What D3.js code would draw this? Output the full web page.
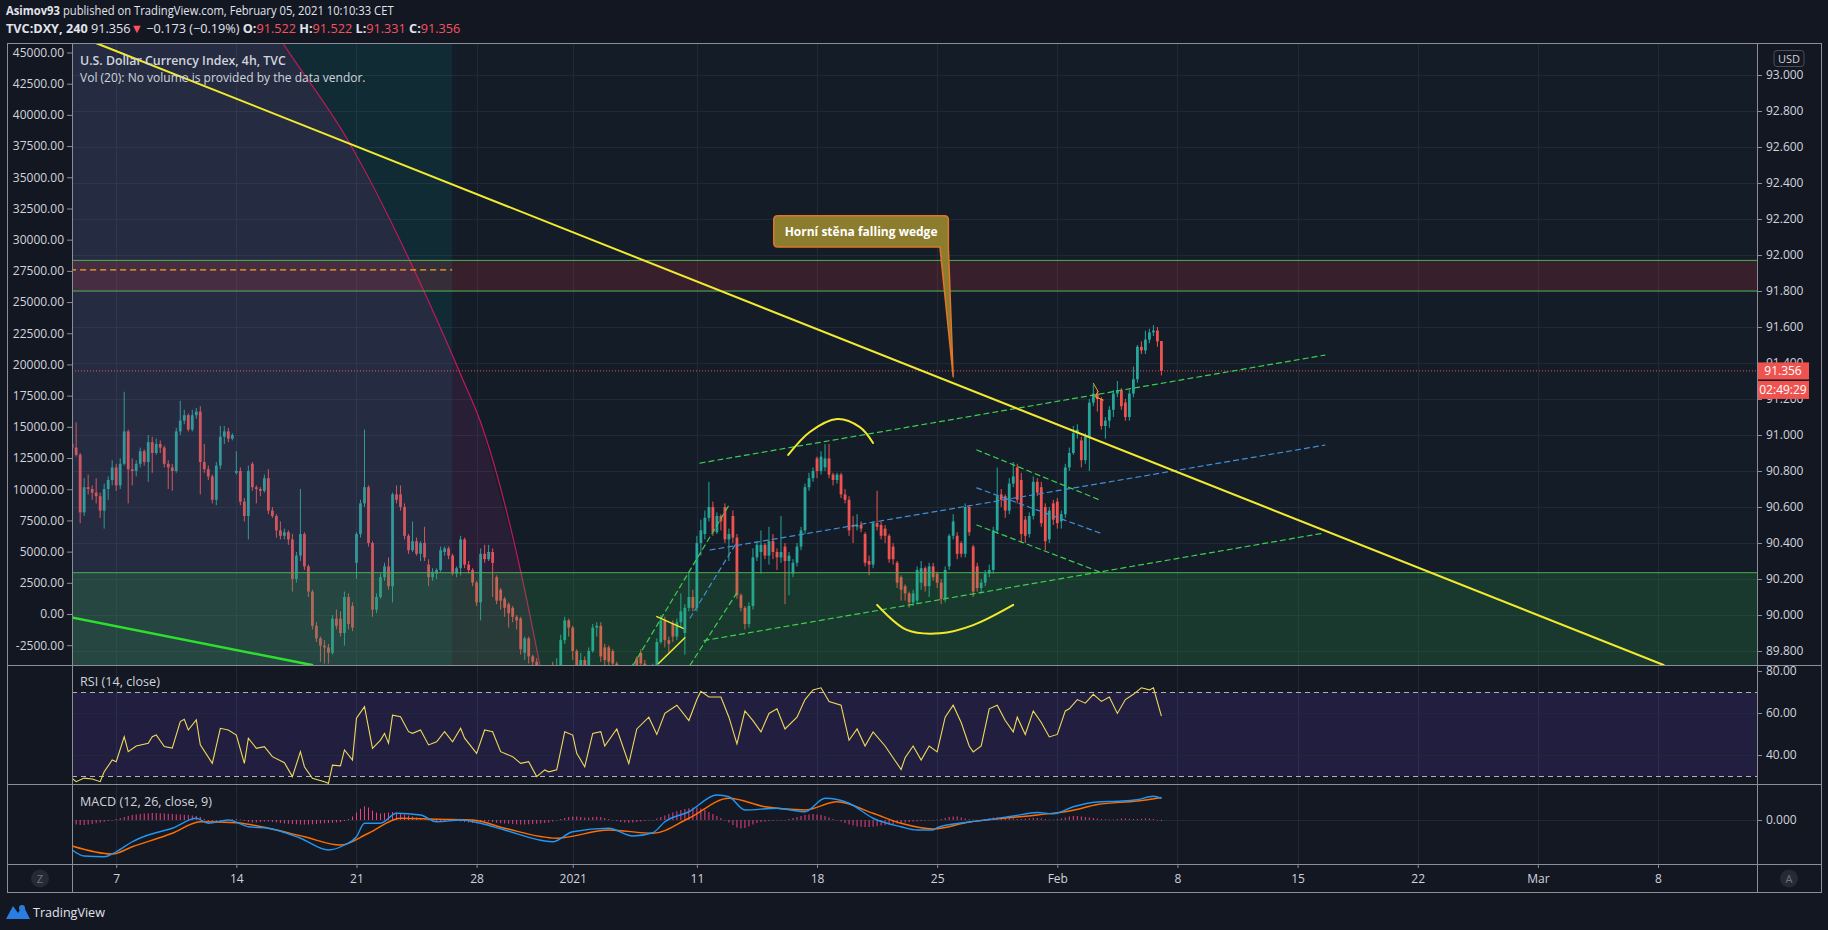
<!DOCTYPE html>
<html><head><meta charset="utf-8">
<script src="https://cdn.jsdelivr.net/npm/d3@7/dist/d3.min.js"></script>
<style>
html,body{margin:0;padding:0;background:#131722;overflow:hidden}
svg{display:block}
text{font-family:"Open Sans","Noto Sans",sans-serif}
</style></head><body>
<svg id="chart" width="1828" height="930"></svg>
<script>
// ---------------- DATA ----------------
// 4h bars; bar index 0 = Mon 7 Dec 2020 (first visible bar is index -11)
const firstBar = -11;
const opens = [90.95,90.93,90.89,90.57,90.71,90.70,90.68,90.66,90.58,90.70,
90.75,90.82,90.72,90.84,91.02,90.81,90.80,90.84,90.91,90.85,
90.96,90.90,90.95,90.93,90.84,90.82,90.80,91.02,91.08,91.11,
91.03,91.11,91.13,90.85,90.81,90.77,90.64,90.83,90.99,91.02,
90.98,90.79,90.80,90.63,90.55,90.84,90.71,90.70,90.69,90.76,
90.58,90.55,90.47,90.44,90.46,90.42,90.20,90.33,90.45,90.27,
90.13,89.94,89.87,89.83,89.82,89.79,89.98,89.98,89.90,90.10,
90.05,90.29,90.45,90.62,90.71,90.40,90.03,90.10,90.21,90.27,
90.16,90.67,90.67,90.60,90.44,90.36,90.41,90.34,90.40,90.28,
90.21,90.23,90.25,90.35,90.37,90.33,90.23,90.26,90.42,90.28,
90.25,90.18,90.07,90.34,90.31,90.35,90.21,90.14,90.09,90.06,
90.04,89.99,89.98,89.79,89.87,89.77,89.74,89.68,89.62,89.66,
89.70,89.69,89.72,89.86,89.97,89.93,89.80,89.70,89.75,89.70,
89.80,89.93,89.94,89.82,89.82,89.80,89.73,89.65,89.60,89.62,
89.68,89.76,89.79,89.73,89.70,89.68,89.72,89.85,89.97,89.86,
89.95,89.88,89.96,89.90,90.04,90.10,90.04,90.40,90.45,90.54,
90.60,90.46,90.55,90.60,90.42,90.55,90.43,90.11,90.04,89.95,
90.05,90.32,90.35,90.39,90.33,90.41,90.35,90.32,90.38,90.30,
90.23,90.29,90.38,90.47,90.71,90.76,90.87,90.80,90.82,90.87,
90.78,90.75,90.78,90.67,90.64,90.50,90.49,90.50,90.45,90.30,
90.28,90.51,90.50,90.48,90.44,90.38,90.29,90.21,90.16,90.12,
90.07,90.08,90.18,90.26,90.16,90.27,90.23,90.18,90.09,90.27,
90.44,90.44,90.40,90.34,90.60,90.38,90.27,90.15,90.18,90.23,
90.25,90.47,90.67,90.66,90.58,90.73,90.82,90.75,90.53,90.45,
90.55,90.74,90.71,90.60,90.42,90.62,90.63,90.52,90.56,90.82,
90.90,91.01,90.97,90.86,90.99,91.18,91.23,91.20,91.05,91.08,
91.14,91.23,91.25,91.18,91.10,91.23,91.31,91.49,91.47,91.53,
91.57,91.58,91.522];
const highs = [90.99,91.07,90.90,90.76,90.78,90.72,90.76,90.68,90.73,90.77,
90.86,90.84,90.87,91.24,91.03,90.87,90.86,90.93,90.92,91.00,
90.99,90.98,90.97,90.94,90.86,90.84,91.04,91.19,91.14,91.12,
91.14,91.15,91.16,90.95,90.83,90.78,90.85,91.05,91.05,91.04,
91.01,90.91,90.82,90.65,90.83,90.85,90.72,90.71,90.78,90.81,
90.60,90.56,90.52,90.48,90.47,90.45,90.35,90.70,90.46,90.28,
90.14,89.96,89.88,89.86,89.84,90.00,90.03,90.02,90.13,90.12,
90.07,90.46,90.64,91.03,90.72,90.41,90.12,90.23,90.29,90.32,
90.68,90.72,90.72,90.62,90.45,90.52,90.43,90.41,90.49,90.31,
90.26,90.26,90.38,90.38,90.38,90.34,90.27,90.44,90.43,90.30,
90.26,90.19,90.37,90.39,90.39,90.37,90.22,90.15,90.10,90.07,
90.05,90.00,89.99,89.88,89.88,89.78,89.76,89.70,89.69,89.72,
89.74,89.76,89.89,89.99,89.98,89.94,89.81,89.79,89.77,89.82,
89.95,89.96,89.96,89.84,89.83,89.81,89.74,89.67,89.66,89.71,
89.73,89.77,89.81,89.75,89.72,89.73,89.87,90.00,89.99,89.88,
89.97,89.98,90.12,90.06,90.24,90.14,90.44,90.53,90.58,90.74,
90.63,90.57,90.56,90.62,90.48,90.58,90.45,90.12,90.05,90.07,
90.37,90.41,90.47,90.40,90.49,90.45,90.37,90.55,90.40,90.35,
90.31,90.40,90.49,90.73,90.79,90.82,90.88,90.91,90.95,90.95,
90.79,90.79,90.79,90.70,90.66,90.55,90.56,90.52,90.46,90.33,
90.52,90.69,90.52,90.50,90.45,90.40,90.30,90.22,90.17,90.13,
90.14,90.27,90.30,90.27,90.29,90.29,90.24,90.20,90.27,90.45,
90.56,90.46,90.41,90.62,90.61,90.39,90.29,90.20,90.25,90.28,
90.49,90.82,90.70,90.67,90.76,90.85,90.84,90.79,90.55,90.57,
90.77,90.76,90.74,90.62,90.60,90.64,90.65,90.58,90.84,90.93,
91.05,91.06,90.99,91.01,91.20,91.28,91.25,91.21,91.10,91.16,
91.25,91.30,91.26,91.20,91.25,91.38,91.50,91.52,91.58,91.59,
91.61,91.60,91.522];
const lows = [90.92,90.88,90.51,90.55,90.67,90.64,90.62,90.54,90.48,90.64,
90.72,90.69,90.70,90.83,90.62,90.72,90.77,90.82,90.83,90.74,
90.79,90.89,90.90,90.82,90.70,90.69,90.79,91.00,91.06,91.02,
91.02,91.09,90.67,90.79,90.75,90.62,90.61,90.81,90.95,90.96,
90.97,90.78,90.61,90.52,90.42,90.69,90.62,90.66,90.68,90.56,
90.54,90.43,90.42,90.42,90.39,90.13,90.18,90.30,90.25,90.10,
89.92,89.85,89.74,89.73,89.73,89.78,89.92,89.88,89.83,89.92,
89.91,90.20,90.43,90.60,90.38,89.99,90.01,90.09,90.19,90.14,
90.07,90.62,90.58,90.42,90.34,90.35,90.33,90.30,90.30,90.16,
90.19,90.20,90.24,90.33,90.31,90.22,90.21,90.22,90.26,90.23,
90.16,90.05,89.97,90.29,90.30,90.10,90.06,90.03,89.99,89.93,
89.96,89.92,89.78,89.75,89.73,89.70,89.64,89.58,89.56,89.62,
89.64,89.66,89.70,89.84,89.88,89.75,89.66,89.66,89.65,89.68,
89.79,89.88,89.74,89.72,89.71,89.70,89.60,89.55,89.56,89.60,
89.66,89.70,89.71,89.66,89.64,89.66,89.70,89.84,89.82,89.79,
89.85,89.86,89.93,89.78,90.02,90.02,90.02,90.33,90.42,90.52,
90.44,90.45,90.47,90.40,90.30,90.40,90.09,90.02,89.92,89.93,
90.03,90.30,90.23,90.31,90.28,90.31,90.25,90.29,90.06,90.11,
90.21,90.27,90.36,90.45,90.69,90.74,90.76,90.78,90.80,90.76,
90.72,90.73,90.65,90.62,90.44,90.40,90.47,90.46,90.27,90.22,
90.26,90.47,90.42,90.40,90.29,90.28,90.15,90.08,90.08,90.04,
90.05,90.06,90.14,90.13,90.10,90.19,90.15,90.06,90.07,90.25,
90.42,90.31,90.32,90.32,90.44,90.10,90.13,90.12,90.16,90.21,
90.23,90.45,90.60,90.54,90.56,90.71,90.62,90.40,90.40,90.43,
90.53,90.66,90.49,90.36,90.40,90.50,90.48,90.48,90.54,90.80,
90.89,90.98,90.82,90.84,90.80,91.16,91.13,91.03,90.98,91.04,
91.10,91.21,91.14,91.08,91.08,91.21,91.29,91.45,91.45,91.51,
91.55,91.49,91.331];
const closes = [90.93,90.89,90.57,90.71,90.70,90.68,90.66,90.58,90.70,90.75,
90.82,90.72,90.84,91.02,90.81,90.80,90.84,90.91,90.85,90.96,
90.90,90.95,90.93,90.84,90.82,90.80,91.02,91.08,91.11,91.03,
91.11,91.13,90.85,90.81,90.77,90.64,90.83,90.99,91.02,90.98,
91.00,90.80,90.63,90.55,90.80,90.71,90.70,90.69,90.76,90.58,
90.55,90.47,90.44,90.46,90.42,90.20,90.33,90.45,90.27,90.13,
89.94,89.87,89.83,89.82,89.79,89.98,89.94,89.90,90.10,89.95,
89.93,90.45,90.62,90.71,90.40,90.03,90.10,90.21,90.27,90.16,
90.67,90.64,90.60,90.44,90.36,90.41,90.34,90.40,90.32,90.21,
90.24,90.25,90.36,90.37,90.33,90.23,90.26,90.42,90.28,90.25,
90.18,90.07,90.34,90.31,90.35,90.29,90.08,90.08,90.04,90.01,
89.99,89.97,89.81,89.87,89.77,89.74,89.68,89.62,89.66,89.70,
89.69,89.72,89.86,89.97,89.93,89.80,89.70,89.75,89.70,89.80,
89.93,89.94,89.77,89.75,89.74,89.73,89.65,89.60,89.62,89.68,
89.70,89.72,89.73,89.70,89.68,89.71,89.85,89.97,89.86,89.84,
89.88,89.96,90.02,90.04,90.10,90.04,90.40,90.47,90.54,90.60,
90.46,90.55,90.52,90.42,90.45,90.43,90.11,90.04,89.95,90.05,
90.32,90.39,90.39,90.33,90.41,90.35,90.32,90.35,90.30,90.33,
90.29,90.38,90.47,90.71,90.76,90.80,90.80,90.88,90.87,90.78,
90.75,90.78,90.67,90.64,90.47,90.49,90.50,90.48,90.29,90.28,
90.51,90.49,90.44,90.44,90.31,90.31,90.18,90.14,90.12,90.07,
90.12,90.25,90.26,90.16,90.27,90.21,90.18,90.09,90.25,90.44,
90.52,90.34,90.34,90.60,90.46,90.13,90.15,90.18,90.23,90.25,
90.47,90.66,90.64,90.58,90.73,90.77,90.64,90.45,90.44,90.55,
90.74,90.68,90.51,90.41,90.58,90.53,90.51,90.56,90.82,90.90,
91.01,91.03,90.86,90.99,91.18,91.23,91.20,91.05,91.08,91.14,
91.23,91.25,91.16,91.10,91.23,91.31,91.49,91.47,91.53,91.57,
91.58,91.52,91.356];

// RSI(14) readings (bar index, value)
const rsiBars = [-11,-10,-8,-6,-4,-3,-1,0,2,3,5,8,9,10,12,14,16,17,18,20,
21,24,26,28,30,32,33,35,37,39,42,44,46,47,49,52,53,54,56,57,
59,60,62,64,66,67,68,69,71,73,74,76,78,80,82,84,86,87,90,92,
94,96,99,101,103,105,107,108,110,112,114,115,117,119,121,122,125,128,130,133,
135,137,140,143,145,146,148,151,153,155,157,159,161,163,165,167,170,172,174,176,
178,181,183,185,187,189,192,194,196,197,199,201,203,205,207,209,211,213,214,216,
218,220,222,224,225,227,229,231,233,235,237,238,240,242,244,246,248,250,252,254,
256,258,259,261];
const rsiVals = [28.9,27.3,29,28.6,27.3,32,37.6,36.8,48.7,41.6,44.3,45.6,48.7,49.5,44,43.3,55.9,57,51.9,56.7,
44.8,36,52.7,51.9,49.5,36,48,43.2,44,39.2,36.3,29.7,41.6,34.4,28.9,27.3,26.5,35.2,34.8,42.4,
37.6,57.5,63,43.2,47.1,50.3,45.6,59,58.2,51.1,50.3,51.9,44.8,46.3,51.1,46.3,52.7,48,40.8,51.9,
51.1,41.6,39.2,36,36.8,29.7,32.9,32,32.9,51.1,49.5,40.8,34.4,50.3,51.1,44.3,52.4,35.9,52.4,58,
49.8,59.8,63.7,56.4,66.4,70.3,67.6,67.6,58,45.3,61,56.4,51,59.8,62,52.4,58,66.4,71,72,
65.5,63.7,47,52.4,44.3,51,44.3,38.7,33.1,38.7,44.3,37.6,44.3,41.5,58,63.7,55.5,44.3,41.5,44.3,
62,63.7,56.4,51,58,49.8,61,55.5,48.6,49.8,61,62,66.4,64.7,68.9,65.5,67.6,59.8,66.4,68.9,
72,71,72,58.5];

// MACD (12,26,9) readings
const macdBars = [-11,-8,-3,0,4,8,14,20,23,28,33,38,46,53,57,60,62,66,70,76,
80,86,91,97,109,114,123,129,134,137,143,150,153,157,165,172,177,183,189,196,
200,204,205,213,218,224,230,234,239,245,250,255,259,261];
const macdVals = [-0.120,-0.144,-0.147,-0.127,-0.087,-0.060,-0.033,0.007,-0.013,0.000,-0.027,-0.033,-0.073,-0.120,-0.100,-0.067,-0.013,-0.013,0.027,0.020,
-0.007,0.000,-0.013,-0.040,-0.087,-0.047,-0.033,-0.064,-0.051,-0.007,0.033,0.100,0.093,0.040,0.047,0.033,0.087,0.067,0.007,-0.027,
-0.040,-0.040,-0.031,-0.008,0.002,0.016,0.030,0.025,0.053,0.072,0.075,0.081,0.095,0.086];
const signalBars = [-11,-1,4,14,21,30,38,47,56,63,71,80,89,97,110,123,134,143,153,162,
172,180,189,196,204,213,221,230,239,245,255,261];
const signalVals = [-0.104,-0.136,-0.107,-0.053,-0.007,-0.011,-0.033,-0.067,-0.100,-0.053,0.007,0.003,0.000,-0.033,-0.073,-0.040,-0.053,0.007,0.087,0.053,
0.040,0.073,0.027,-0.013,-0.036,-0.008,0.006,0.020,0.039,0.062,0.076,0.090];
// histogram, one value per bar from firstBar
const macdHist = [-0.016,-0.018,-0.020,-0.020,-0.018,-0.016,-0.013,-0.010,-0.007,-0.004,-0.001,
0.004,0.008,0.012,0.016,0.020,0.022,0.024,0.026,0.027,0.028,0.028,0.027,0.026,0.025,0.024,0.023,0.022,0.021,0.020,0.018,0.016,0.012,
0.004,-0.004,-0.008,-0.010,-0.008,-0.004,0.000,0.003,0.004,0.002,-0.004,-0.008,-0.010,-0.010,-0.008,-0.006,-0.006,-0.008,-0.010,-0.012,
-0.014,-0.015,-0.016,-0.017,-0.018,-0.018,-0.018,-0.017,-0.016,-0.014,-0.013,-0.012,-0.011,-0.010,-0.008,-0.004,
0.004,0.014,0.030,0.045,0.055,0.050,0.038,0.030,0.026,0.028,0.030,0.032,0.030,0.026,0.022,0.018,0.014,0.010,
0.006,0.002,-0.002,-0.006,-0.008,-0.008,-0.006,-0.004,-0.003,-0.004,-0.006,-0.008,-0.010,-0.012,-0.013,-0.010,-0.006,-0.006,-0.008,-0.011,
-0.013,-0.014,-0.015,-0.016,-0.017,-0.018,-0.018,-0.017,-0.016,-0.015,-0.014,-0.012,-0.010,
-0.006,-0.002,0.004,0.008,0.012,0.014,0.014,0.012,0.010,0.010,0.012,0.013,0.012,0.008,0.004,0.000,-0.004,-0.008,-0.010,-0.011,
-0.010,-0.008,-0.006,-0.004,-0.002,0.000,
0.006,0.012,0.018,0.024,0.030,0.035,0.040,0.044,0.047,0.050,0.050,0.046,0.040,0.032,0.024,0.016,0.008,
0.000,-0.010,-0.020,-0.030,-0.034,-0.032,-0.026,-0.018,-0.012,-0.008,-0.006,-0.004,-0.003,-0.002,-0.002,0.000,0.004,0.008,
0.012,0.016,0.020,0.022,0.024,0.022,0.020,0.016,0.010,0.004,0.000,
-0.006,-0.012,-0.018,-0.022,-0.026,-0.027,-0.028,-0.028,-0.027,-0.025,-0.022,-0.020,-0.018,-0.016,-0.014,-0.012,-0.010,-0.008,-0.006,-0.005,
-0.004,-0.003,-0.002,0.000,0.002,0.004,0.008,0.012,0.014,0.014,0.010,0.006,0.003,0.002,0.001,0.002,0.004,0.008,0.010,0.012,
0.012,0.010,0.008,0.006,0.004,0.004,0.006,0.007,0.008,0.008,0.006,0.004,0.002,0.002,0.004,0.006,0.010,0.014,0.016,0.016,
0.014,0.012,0.010,0.008,0.006,0.004,0.003,0.002,0.002,0.004,0.006,0.006,0.005,0.004,0.004,0.005,0.006,0.006,0.004,0.000,-0.004];

// axis ticks / labels
const priceTicks = [93.0,92.8,92.6,92.4,92.2,92.0,91.8,91.6,91.4,91.2,91.0,90.8,90.6,90.4,90.2,90.0,89.8];
const leftTicks = [45000,42500,40000,37500,35000,32500,30000,27500,25000,22500,20000,17500,15000,12500,10000,7500,5000,2500,0,-2500];
const rsiTicks = [80,60,40];
const macdTicks = [0];
const timeTickBars = [0,30,60,90,114,145,175,205,235,265,295,325,355,385];
const timeTickLabels = ["7","14","21","28","2021","11","18","25","Feb","8","15","22","Mar","8"];

// drawings (bar index, price)
const trendYellow = [[-5.1,93.178],[386.4,89.722]];
const trendGreen = [[-11.5,89.988],[48.9,89.722]];
const chanUpper = [[145.8,90.844],[301.8,91.444]];
const chanMid = [[148.3,90.361],[301.8,90.944]];
const chanLower = [[146.8,89.858],[301.8,90.456]];
const steepA = [[129.1,89.722],[153.3,90.621]];
const steepB = [[143.3,89.722],[154.9,90.12]];
const steepBlue = [[143.3,89.983],[155,90.406]];
const flagUp = [[214.9,90.917],[245.6,90.639]];
const flagMid = [[214.9,90.706],[245.6,90.456]];
const flagLow = [[214.9,90.50],[245.6,90.239]];
const capCurve = [[167.8,90.889],[173.2,91.017],[180.0,91.089],[185.7,91.044],[189.0,90.956]];
const cupCurve = [[190,90.056],[197.4,89.917],[205.7,89.898],[214,89.944],[224,90.056]];
const wedgeTop = [[135,89.991],[141.6,89.926]];
const wedgeBot = [[135.4,89.731],[142,89.874]];
const zigzag = [[244,91.287],[245.2,91.241],[244.4,91.213],[246.5,91.194]];
const arcPts = [[38.4,93.289],[41.6,93.178],[58.1,92.628],[74.4,91.917],[86.6,91.306],[90.8,91.083],[101.1,90.233],[105.8,89.722],[107.3,89.55]];
const tealBox = [-11.5,83.9];
const redZone = [91.80,91.97];
const greenZoneTop = 90.235;
const orangeDash = {from:-11.5,to:83.9,price:91.917};
const lastPrice = 91.356;
const callout = {x0:164.2,x1:207.8,top:92.218,bottom:92.044,tip:[209.0,91.324],baseLeft:205.7,text:"Horní stěna falling wedge"};

// ---------------- LAYOUT ----------------
const W=1828,H=930,L=72,R=1757,T=43,MB=665,RB=784,MCB=864,AB=893,FL=7,FR=1822;
const UP='#26a69a',DN='#ef5350',TXT='#d1d4dc',FRAME='#8b8e97',GRID='#212836';

const x = d3.scaleLinear().domain([0,385]).range([116.2,1658]);
const yP = d3.scaleLinear().domain([89.8,93.0]).range([651,75]);
const yL = d3.scaleLinear().domain([-2500,45000]).range([645.2,52.5]);
const yR = d3.scaleLinear().domain([40,80]).range([755,671]);
const yM = d3.scaleLinear().domain([0,0.1]).range([820,795]);

const svg = d3.select('#chart');
const defs = svg.append('defs');
function clip(id,x0,y0,w,h){defs.append('clipPath').attr('id',id).append('rect').attr('x',x0).attr('y',y0).attr('width',w).attr('height',h);}
clip('cMain',L,T,R-L,MB-T); clip('cRsi',L,MB,R-L,RB-MB); clip('cMacd',L,RB,R-L,MCB-RB);

svg.append('rect').attr('width',W).attr('height',H).attr('fill','#131722');
svg.append('rect').attr('x',L).attr('y',T).attr('width',R-L).attr('height',MB-T).attr('fill','#141c28');
svg.append('rect').attr('x',L).attr('y',MB).attr('width',R-L).attr('height',MCB-MB).attr('fill','#131822');

// vertical grid
svg.append('g').selectAll('line').data(timeTickBars).join('line')
  .attr('x1',d=>Math.round(x(d))+0.5).attr('x2',d=>Math.round(x(d))+0.5)
  .attr('y1',T).attr('y2',MCB).attr('stroke',GRID).attr('stroke-width',1);

function fit(t,target){
  const w=t.node().getComputedTextLength(); const x0=+t.attr('x');
  t.attr('transform',`translate(${x0},0) scale(${target/w},1) translate(${-x0},0)`);
}

// ---------- MAIN PANE ----------
const gM = svg.append('g').attr('clip-path','url(#cMain)');
gM.append('g').selectAll('line').data(priceTicks).join('line')
  .attr('x1',L).attr('x2',R).attr('y1',d=>Math.round(yP(d))+0.5).attr('y2',d=>Math.round(yP(d))+0.5)
  .attr('stroke',GRID);

const idx = d3.range(opens.length);
const cg = gM.append('g');
cg.selectAll('line').data(idx).join('line')
  .attr('x1',i=>x(firstBar+i)).attr('x2',i=>x(firstBar+i))
  .attr('y1',i=>yP(highs[i])).attr('y2',i=>yP(lows[i]))
  .attr('stroke',i=>closes[i]>=opens[i]?UP:DN).attr('stroke-width',1);
cg.selectAll('rect').data(idx).join('rect')
  .attr('x',i=>x(firstBar+i)-1.4).attr('width',2.8)
  .attr('y',i=>yP(Math.max(opens[i],closes[i])))
  .attr('height',i=>Math.max(1,Math.abs(yP(opens[i])-yP(closes[i]))))
  .attr('fill',i=>closes[i]>=opens[i]?UP:DN);

// translucent areas
gM.append('rect').attr('x',x(tealBox[0])).attr('width',x(tealBox[1])-x(tealBox[0]))
  .attr('y',T).attr('height',MB-T).attr('fill','rgba(0,160,150,0.12)');
const arcPoly = [[tealBox[0],arcPts[0][1]]].concat(arcPts).concat([[tealBox[0],arcPts[arcPts.length-1][1]]]);
gM.append('path').attr('d',d3.line().x(d=>x(d[0])).y(d=>yP(d[1])).curve(d3.curveLinear)(arcPoly)+'Z')
  .attr('fill','rgba(190,60,160,0.12)');
gM.append('path').attr('d',d3.line().x(d=>x(d[0])).y(d=>yP(d[1])).curve(d3.curveMonotoneX)(arcPts))
  .attr('fill','none').attr('stroke','#c2185b').attr('stroke-width',1.2);
gM.append('rect').attr('x',L).attr('width',R-L).attr('y',yP(redZone[1])).attr('height',yP(redZone[0])-yP(redZone[1]))
  .attr('fill','rgba(242,54,69,0.16)');
gM.append('rect').attr('x',L).attr('width',R-L).attr('y',yP(greenZoneTop)).attr('height',MB-yP(greenZoneTop))
  .attr('fill','rgba(46,175,70,0.20)');
gM.append('g').selectAll('line').data([redZone[0],redZone[1],greenZoneTop]).join('line')
  .attr('x1',L).attr('x2',R).attr('y1',d=>yP(d)).attr('y2',d=>yP(d)).attr('stroke','#4caf50').attr('stroke-width',1);
gM.append('line').attr('x1',x(orangeDash.from)).attr('x2',x(orangeDash.to))
  .attr('y1',yP(orangeDash.price)).attr('y2',yP(orangeDash.price))
  .attr('stroke','#f5a623').attr('stroke-width',1.2).attr('stroke-dasharray','6,4');
gM.append('line').attr('x1',L).attr('x2',R).attr('y1',yP(lastPrice)).attr('y2',yP(lastPrice))
  .attr('stroke','#ef5350').attr('stroke-width',1).attr('stroke-dasharray','1,2');

function draw(pts,color,w,dash,curve){
  const p = gM.append('path').attr('d',d3.line().x(d=>x(d[0])).y(d=>yP(d[1])).curve(curve||d3.curveLinear)(pts))
    .attr('fill','none').attr('stroke',color).attr('stroke-width',w).attr('stroke-linecap','round');
  if(dash) p.attr('stroke-dasharray',dash);
}
const GD='#3ccf4e', BD='#3f8fd8';
draw(chanUpper,GD,1.2,'5,4'); draw(chanMid,BD,1.2,'5,4'); draw(chanLower,GD,1.2,'5,4');
draw(steepA,GD,1.2,'5,4'); draw(steepB,GD,1.2,'5,4'); draw(steepBlue,BD,1.2,'5,4');
draw(flagUp,GD,1.2,'5,4'); draw(flagMid,BD,1.2,'5,4'); draw(flagLow,GD,1.2,'5,4');
draw(trendYellow,'#f2ea2e',2);
draw(trendGreen,'#2ee02e',2.5);
draw(capCurve,'#f2ea2e',2,null,d3.curveCatmullRom);
draw(cupCurve,'#f2ea2e',2,null,d3.curveCatmullRom);
draw(wedgeTop,'#f2ea2e',1.5); draw(wedgeBot,'#f2ea2e',1.5);
draw(zigzag,'#f5a623',1);

// callout
{
  const bx0=x(callout.x0),bx1=x(callout.x1),by0=yP(callout.top),by1=yP(callout.bottom),r=4;
  const tx=x(callout.tip[0]),ty=yP(callout.tip[1]),bl=x(callout.baseLeft);
  const d=`M${bx0+r},${by0} H${bx1-r} Q${bx1},${by0} ${bx1},${by0+r} V${by1} L${tx},${ty} L${bl},${by1} H${bx0+r} Q${bx0},${by1} ${bx0},${by1-r} V${by0+r} Q${bx0},${by0} ${bx0+r},${by0} Z`;
  gM.append('path').attr('d',d).attr('fill','#8c7c2e').attr('stroke','#e0762a').attr('stroke-width',1.5).attr('stroke-linejoin','round');
  const t=gM.append('text').attr('x',(bx0+bx1)/2).attr('y',(by0+by1)/2+4.5).attr('text-anchor','middle')
    .attr('fill','#ffffff').attr('font-size',12.5).attr('font-weight',700).text(callout.text);
  fit(t,153);
}

// ---------- RSI PANE ----------
const gR = svg.append('g').attr('clip-path','url(#cRsi)');
gR.append('rect').attr('x',L).attr('width',R-L).attr('y',yR(70)).attr('height',yR(30)-yR(70)).attr('fill','rgba(120,60,220,0.16)');
gR.append('g').selectAll('line').data([60,40]).join('line').attr('x1',L).attr('x2',R)
  .attr('y1',d=>Math.round(yR(d))+0.5).attr('y2',d=>Math.round(yR(d))+0.5).attr('stroke',GRID);
gR.append('g').selectAll('line').data([70,30]).join('line').attr('x1',L).attr('x2',R)
  .attr('y1',d=>Math.round(yR(d))+0.5).attr('y2',d=>Math.round(yR(d))+0.5)
  .attr('stroke','#aeb1ba').attr('stroke-dasharray','5,4').attr('stroke-width',1);
gR.append('path').attr('d',d3.line().x((d,i)=>x(rsiBars[i])).y(d=>yR(d))(rsiVals))
  .attr('fill','none').attr('stroke','#efd95a').attr('stroke-width',1.1);

// ---------- MACD PANE ----------
const gC = svg.append('g').attr('clip-path','url(#cMacd)');
gC.append('line').attr('x1',L).attr('x2',R).attr('y1',Math.round(yM(0))+0.5).attr('y2',Math.round(yM(0))+0.5).attr('stroke',GRID);
gC.append('g').selectAll('rect').data(macdHist).join('rect')
  .attr('x',(d,i)=>x(firstBar+i)-0.5).attr('width',1)
  .attr('y',d=>Math.min(yM(0),yM(d))).attr('height',d=>Math.max(0.5,Math.abs(yM(d)-yM(0))))
  .attr('fill','#ec3f84');
gC.append('path').attr('d',d3.line().x((d,i)=>x(signalBars[i])).y(d=>yM(d)).curve(d3.curveMonotoneX)(signalVals))
  .attr('fill','none').attr('stroke','#ff6d00').attr('stroke-width',1.4);
gC.append('path').attr('d',d3.line().x((d,i)=>x(macdBars[i])).y(d=>yM(d)).curve(d3.curveMonotoneX)(macdVals))
  .attr('fill','none').attr('stroke','#2196f3').attr('stroke-width',1.4);

// ---------- AXES ----------
function styleAxis(g){
  g.select('.domain').remove();
  g.selectAll('.tick line').attr('stroke',FRAME);
  g.selectAll('.tick text').attr('fill',TXT).attr('font-size',12).attr('font-family','"Open Sans","Noto Sans",sans-serif');
}
svg.append('g').attr('transform',`translate(${R},0)`)
  .call(d3.axisRight(yP).tickValues(priceTicks).tickFormat(d=>d.toFixed(3)).tickSize(5).tickPadding(4)).call(styleAxis);
svg.append('g').attr('transform',`translate(${L},0)`)
  .call(d3.axisLeft(yL).tickValues(leftTicks).tickFormat(d=>d.toFixed(2)).tickSize(5).tickPadding(3)).call(styleAxis);
svg.append('g').attr('transform',`translate(${R},0)`)
  .call(d3.axisRight(yR).tickValues(rsiTicks).tickFormat(d=>d.toFixed(2)).tickSize(5).tickPadding(4)).call(styleAxis);
svg.append('g').attr('transform',`translate(${R},0)`)
  .call(d3.axisRight(yM).tickValues(macdTicks).tickFormat(d=>d.toFixed(3)).tickSize(5).tickPadding(4)).call(styleAxis);
svg.append('g').attr('transform',`translate(0,${MCB})`)
  .call(d3.axisBottom(x).tickValues(timeTickBars).tickFormat((d,i)=>timeTickLabels[i]).tickSize(4).tickPadding(6)).call(styleAxis);

// last price labels
{
  const yc=yP(lastPrice);
  svg.append('rect').attr('x',R).attr('y',yc-8.5).attr('width',52).attr('height',17).attr('fill','#ef5350');
  svg.append('text').attr('x',R+26).attr('y',yc+4.3).attr('text-anchor','middle').attr('fill','#fff').attr('font-size',12).text(lastPrice.toFixed(3));
  svg.append('rect').attr('x',R).attr('y',yc+10).attr('width',52).attr('height',18).attr('fill','#ef5350');
  svg.append('text').attr('x',R+26).attr('y',yc+23.3).attr('text-anchor','middle').attr('fill','#fff').attr('font-size',12).text('02:49:29');
}
// USD badge
svg.append('rect').attr('x',1774).attr('y',50.5).attr('width',30).attr('height',16).attr('rx',3)
  .attr('fill','#131722').attr('stroke','#4a4e59');
svg.append('text').attr('x',1789).attr('y',62.5).attr('text-anchor','middle').attr('fill',TXT).attr('font-size',11).text('USD');

// frame
const fr = svg.append('g').attr('stroke',FRAME).attr('stroke-width',1).attr('fill','none');
fr.append('rect').attr('x',FL+0.5).attr('y',T+0.5).attr('width',FR-FL-1).attr('height',AB-T-1);
[MB,RB,MCB].forEach(yy=>fr.append('line').attr('x1',FL).attr('x2',FR).attr('y1',yy+0.5).attr('y2',yy+0.5));
[L,R].forEach(xx=>fr.append('line').attr('x1',xx+0.5).attr('x2',xx+0.5).attr('y1',T).attr('y2',AB));

// Z / A badges
[[40,'Z'],[1789,'A']].forEach(([cx,ch])=>{
  svg.append('circle').attr('cx',cx).attr('cy',878.5).attr('r',9).attr('fill','#262a35');
  svg.append('text').attr('x',cx).attr('y',882.5).attr('text-anchor','middle').attr('fill','#6f737e').attr('font-size',11).text(ch);
});

// legends
function txt(xp,yp,s,size,weight,target,color){
  const t=svg.append('text').attr('x',xp).attr('y',yp).attr('fill',color||TXT).attr('font-size',size).attr('font-weight',weight||400).text(s);
  if(target) fit(t,target);
  return t;
}
txt(80,65,'U.S. Dollar Currency Index, 4h, TVC',12.5,600,206);
txt(80,82,'Vol (20): No volume is provided by the data vendor.',12.5,400,286);
txt(80,686.5,'RSI (14, close)',12.5,400,80);
txt(80,806.5,'MACD (12, 26, close, 9)',12.5,400,132);

// header
{
  const t1=svg.append('text').attr('x',6).attr('y',15).attr('font-size',12.5).attr('fill','#e0e3eb');
  t1.append('tspan').attr('font-weight',700).text('Asimov93');
  t1.append('tspan').text(' published on TradingView.com, February 05, 2021 10:10:33 CET');
  fit(t1,388);
  const R2='#f7525f';
  const t2=svg.append('text').attr('x',6).attr('y',33.5).attr('font-size',12.5).attr('fill','#e0e3eb');
  const parts=[['TVC:DXY, 240',700,null],[' 91.356',400,null],['▼',400,R2],[' −0.173 (−0.19%) ',400,null],
    ['O:',700,null],['91.522',400,R2],[' H:',700,null],['91.522',400,R2],[' L:',700,null],['91.331',400,R2],[' C:',700,null],['91.356',400,R2]];
  parts.forEach(([s,w,c])=>{const sp=t2.append('tspan').attr('font-weight',w).text(s); if(c) sp.attr('fill',c);});
  fit(t2,455);
}
// footer logo
svg.append('path').attr('d','M6,919 L13,906 L18,913 L23,905 L30,919 Z').attr('fill','#2a7de1');
svg.append('circle').attr('cx',22).attr('cy',908).attr('r',3).attr('fill','#2a7de1');
txt(33,917,'TradingView',13,400,72,'#e0e3eb');
</script></body></html>
